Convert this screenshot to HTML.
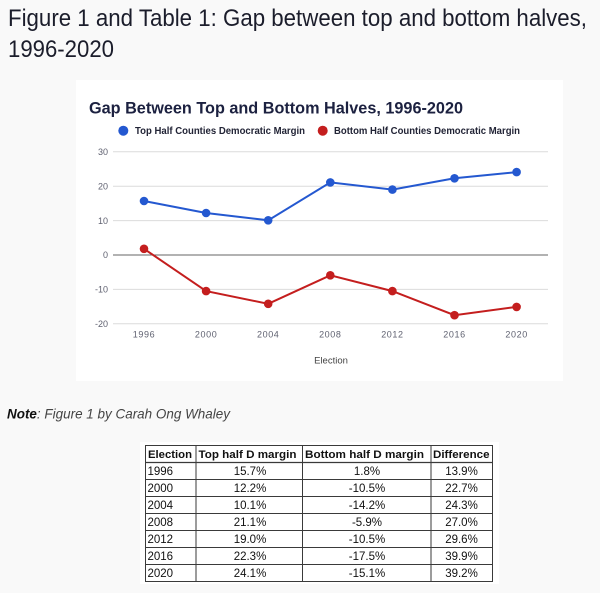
<!DOCTYPE html>
<html>
<head>
<meta charset="utf-8">
<style>
html,body{margin:0;padding:0;background:#f9f9f9;}
svg{display:block;}
text{font-family:"Liberation Sans",Arial,sans-serif;}
</style>
</head>
<body>
<svg width="600" height="593" viewBox="0 0 600 593" xmlns="http://www.w3.org/2000/svg">
  <rect x="0" y="0" width="600" height="593" fill="#f9f9f9"/>
  <!-- Heading -->
  <text x="8" y="26" font-size="24" fill="#1b1d2b" textLength="579" lengthAdjust="spacingAndGlyphs">Figure 1 and Table 1: Gap between top and bottom halves,</text>
  <text x="8" y="57" font-size="24" fill="#1b1d2b" textLength="106" lengthAdjust="spacingAndGlyphs">1996-2020</text>

  <!-- Chart box -->
  <rect x="76" y="80" width="487" height="301" fill="#ffffff"/>
  <text x="89" y="113.5" font-size="17" font-weight="bold" fill="#1c2140" textLength="374" lengthAdjust="spacingAndGlyphs">Gap Between Top and Bottom Halves, 1996-2020</text>

  <!-- Legend -->
  <circle cx="123.3" cy="130.7" r="5" fill="#2458d0"/>
  <text x="135" y="134.2" font-size="10" font-weight="bold" fill="#222436" textLength="170" lengthAdjust="spacingAndGlyphs">Top Half Counties Democratic Margin</text>
  <circle cx="322.7" cy="130.7" r="5" fill="#c41e1e"/>
  <text x="334" y="134.2" font-size="10" font-weight="bold" fill="#222436" textLength="186" lengthAdjust="spacingAndGlyphs">Bottom Half Counties Democratic Margin</text>

  <!-- Gridlines -->
  <g stroke="#dcdcdc" stroke-width="1">
    <line x1="113" y1="151.8" x2="548" y2="151.8"/>
    <line x1="113" y1="186.2" x2="548" y2="186.2"/>
    <line x1="113" y1="220.6" x2="548" y2="220.6"/>
    <line x1="113" y1="289.4" x2="548" y2="289.4"/>
    <line x1="113" y1="323.8" x2="548" y2="323.8"/>
  </g>
  <line x1="113" y1="255" x2="548" y2="255" stroke="#666" stroke-width="1"/>

  <!-- Y labels -->
  <g font-size="9" fill="#5f6170" text-anchor="end">
    <text x="108" y="155">30</text>
    <text x="108" y="189.4">20</text>
    <text x="108" y="223.8">10</text>
    <text x="108" y="258.2">0</text>
    <text x="108" y="292.6">-10</text>
    <text x="108" y="327">-20</text>
  </g>

  <!-- X labels -->
  <g font-size="9" fill="#5f6170" text-anchor="middle" letter-spacing="0.6">
    <text x="144" y="337.5">1996</text>
    <text x="206.1" y="337.5">2000</text>
    <text x="268.2" y="337.5">2004</text>
    <text x="330.3" y="337.5">2008</text>
    <text x="392.4" y="337.5">2012</text>
    <text x="454.5" y="337.5">2016</text>
    <text x="516.6" y="337.5">2020</text>
  </g>
  <text x="331" y="363.5" font-size="9.5" fill="#444" text-anchor="middle">Election</text>

  <!-- Series -->
  <polyline fill="none" stroke="#2458d0" stroke-width="2" points="144,201 206.1,213 268.2,220.3 330.3,182.4 392.4,189.6 454.5,178.3 516.6,172.1"/>
  <g fill="#2458d0">
    <circle cx="144" cy="201" r="4.3"/>
    <circle cx="206.1" cy="213" r="4.3"/>
    <circle cx="268.2" cy="220.3" r="4.3"/>
    <circle cx="330.3" cy="182.4" r="4.3"/>
    <circle cx="392.4" cy="189.6" r="4.3"/>
    <circle cx="454.5" cy="178.3" r="4.3"/>
    <circle cx="516.6" cy="172.1" r="4.3"/>
  </g>
  <polyline fill="none" stroke="#c41e1e" stroke-width="2" points="144,248.8 206.1,291.1 268.2,303.8 330.3,275.3 392.4,291.1 454.5,315.2 516.6,306.9"/>
  <g fill="#c41e1e">
    <circle cx="144" cy="248.8" r="4.3"/>
    <circle cx="206.1" cy="291.1" r="4.3"/>
    <circle cx="268.2" cy="303.8" r="4.3"/>
    <circle cx="330.3" cy="275.3" r="4.3"/>
    <circle cx="392.4" cy="291.1" r="4.3"/>
    <circle cx="454.5" cy="315.2" r="4.3"/>
    <circle cx="516.6" cy="306.9" r="4.3"/>
  </g>

  <!-- Note -->
  <text x="7" y="418.5" font-size="14" font-style="italic" fill="#444" textLength="223" lengthAdjust="spacingAndGlyphs"><tspan font-weight="bold" fill="#111">Note</tspan>: Figure 1 by Carah Ong Whaley</text>

  <!-- Table -->
  <rect x="140" y="442" width="359" height="142" fill="#ffffff"/>
  <g stroke="#3a3a3a" stroke-width="1" fill="none">
    <rect x="145.5" y="445.5" width="347" height="136"/>
    <line x1="196" y1="445.5" x2="196" y2="581.5"/>
    <line x1="302.5" y1="445.5" x2="302.5" y2="581.5"/>
    <line x1="431" y1="445.5" x2="431" y2="581.5"/>
    <line x1="145.5" y1="462.5" x2="492.5" y2="462.5" stroke-width="1.3"/>
    <line x1="145.5" y1="479.5" x2="492.5" y2="479.5"/>
    <line x1="145.5" y1="496.5" x2="492.5" y2="496.5"/>
    <line x1="145.5" y1="513.5" x2="492.5" y2="513.5"/>
    <line x1="145.5" y1="530.5" x2="492.5" y2="530.5"/>
    <line x1="145.5" y1="547.5" x2="492.5" y2="547.5"/>
    <line x1="145.5" y1="564.5" x2="492.5" y2="564.5"/>
  </g>
  <g font-size="11" font-weight="bold" fill="#111">
    <text x="148" y="458" textLength="44" lengthAdjust="spacingAndGlyphs">Election</text>
    <text x="198.5" y="458" textLength="98" lengthAdjust="spacingAndGlyphs">Top half D margin</text>
    <text x="305" y="458" textLength="119" lengthAdjust="spacingAndGlyphs">Bottom half D margin</text>
    <text x="433" y="458" textLength="56.5" lengthAdjust="spacingAndGlyphs">Difference</text>
  </g>
  <g font-size="11.5" fill="#111">
    <text x="147.5" y="475">1996</text>
    <text x="147.5" y="492">2000</text>
    <text x="147.5" y="509">2004</text>
    <text x="147.5" y="526">2008</text>
    <text x="147.5" y="543">2012</text>
    <text x="147.5" y="560">2016</text>
    <text x="147.5" y="577">2020</text>
  </g>
  <g font-size="11.5" fill="#111" text-anchor="middle">
    <text x="250" y="475">15.7%</text>
    <text x="250" y="492">12.2%</text>
    <text x="250" y="509">10.1%</text>
    <text x="250" y="526">21.1%</text>
    <text x="250" y="543">19.0%</text>
    <text x="250" y="560">22.3%</text>
    <text x="250" y="577">24.1%</text>

    <text x="367" y="475">1.8%</text>
    <text x="367" y="492">-10.5%</text>
    <text x="367" y="509">-14.2%</text>
    <text x="367" y="526">-5.9%</text>
    <text x="367" y="543">-10.5%</text>
    <text x="367" y="560">-17.5%</text>
    <text x="367" y="577">-15.1%</text>

    <text x="461.5" y="475">13.9%</text>
    <text x="461.5" y="492">22.7%</text>
    <text x="461.5" y="509">24.3%</text>
    <text x="461.5" y="526">27.0%</text>
    <text x="461.5" y="543">29.6%</text>
    <text x="461.5" y="560">39.9%</text>
    <text x="461.5" y="577">39.2%</text>
  </g>
</svg>
</body>
</html>
